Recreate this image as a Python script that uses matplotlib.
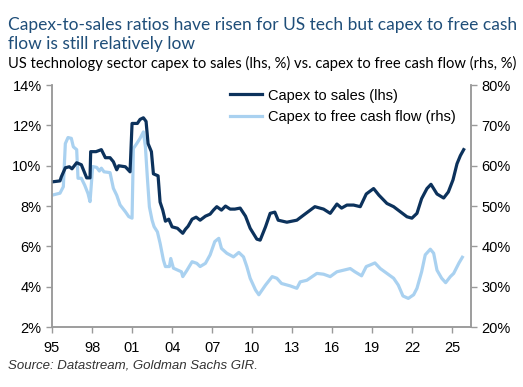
import matplotlib
matplotlib.use("Agg")
import matplotlib.pyplot as plt

# capex to sales (lhs, %)
sales_year = [1995.0, 1995.6, 1995.7, 1996.0, 1996.3, 1996.5, 1996.85, 1997.2, 1997.6, 1997.85,
              1997.9, 1998.3, 1998.7, 1999.0, 1999.35, 1999.6, 1999.85, 2000.0, 2000.5, 2000.85,
              2001.0, 2001.4, 2001.6, 2001.85, 2002.05, 2002.2, 2002.45, 2002.6, 2002.95, 2003.1,
              2003.3, 2003.5, 2003.75, 2004.0, 2004.4, 2004.8, 2005.0, 2005.2, 2005.5, 2005.8,
              2006.1, 2006.5, 2006.85, 2007.1, 2007.35, 2007.7, 2008.0, 2008.35, 2008.7, 2009.1,
              2009.5, 2009.85, 2010.35, 2010.6, 2011.0, 2011.35, 2011.7, 2011.95, 2012.6, 2013.35,
              2013.85, 2014.7, 2015.35, 2015.85, 2016.35, 2016.7, 2017.1, 2017.6, 2018.1, 2018.55,
              2019.1, 2019.5, 2020.1, 2020.6, 2021.1, 2021.6, 2021.97, 2022.35, 2022.7, 2023.1,
              2023.4, 2023.85, 2024.35, 2024.7, 2025.05, 2025.35, 2025.6, 2025.85]
sales_val = [9.2, 9.25, 9.45, 9.9, 9.95, 9.85, 10.15, 10.05, 9.4, 9.4,
             10.7, 10.7, 10.8, 10.4, 10.4, 10.2, 9.8, 10.0, 9.95, 9.7,
             12.1, 12.1, 12.3, 12.38, 12.2, 11.1, 10.7, 9.6, 9.5, 8.2,
             7.8, 7.25, 7.35, 6.97, 6.9, 6.65, 6.85, 7.0, 7.35, 7.45,
             7.3, 7.5, 7.6, 7.8, 7.97, 7.8, 8.0, 7.85, 7.85, 7.9,
             7.5, 6.9, 6.36, 6.31, 6.97, 7.64, 7.7, 7.3, 7.2, 7.3,
             7.55, 7.97, 7.85, 7.64, 8.1, 7.9, 8.05, 8.05, 7.97, 8.6,
             8.87, 8.54, 8.13, 7.97, 7.72, 7.47, 7.4, 7.64, 8.37, 8.87,
             9.08, 8.6, 8.4, 8.7, 9.3, 10.1, 10.5, 10.8]

# capex to free cash flow (rhs, %)
fcf_year = [1995.0, 1995.6, 1995.85, 1996.0, 1996.2, 1996.45, 1996.6, 1996.85, 1996.95, 1997.2,
            1997.45, 1997.7, 1997.85, 1998.05, 1998.35, 1998.55, 1998.7, 1998.9, 1999.35, 1999.6,
            1999.85, 2000.1, 2000.5, 2000.75, 2001.0, 2001.1, 2001.35, 2001.6, 2001.85, 2002.0,
            2002.15, 2002.3, 2002.5, 2002.65, 2002.9, 2003.1, 2003.35, 2003.5, 2003.8, 2003.9,
            2004.1, 2004.7, 2004.8, 2005.1, 2005.5, 2005.85, 2006.1, 2006.5, 2006.85, 2007.2,
            2007.5, 2007.7, 2008.1, 2008.6, 2009.0, 2009.35, 2009.6, 2009.85, 2010.25, 2010.5,
            2011.0, 2011.5, 2011.85, 2012.2, 2012.85, 2013.35, 2013.6, 2014.1, 2014.85, 2015.35,
            2015.85, 2016.35, 2016.85, 2017.35, 2017.7, 2018.2, 2018.55, 2018.85, 2019.2, 2019.6,
            2020.1, 2020.6, 2020.95, 2021.3, 2021.7, 2022.1, 2022.35, 2022.7, 2022.97, 2023.35,
            2023.6, 2023.85, 2024.2, 2024.5, 2024.85, 2025.1, 2025.5, 2025.75]
fcf_val = [52.7, 53.2, 54.8, 65.5, 67.0, 66.8, 64.7, 64.0, 56.9, 56.9,
           55.2, 53.1, 51.1, 59.8, 59.6, 58.7, 59.4, 58.5, 58.3, 54.4,
           52.7, 50.3, 48.6, 47.4, 47.0, 64.3, 65.5, 66.8, 68.4, 64.7,
           56.9, 49.8, 46.5, 44.9, 43.6, 40.8, 36.6, 35.0, 35.0, 37.0,
           34.6, 33.7, 32.5, 34.0, 36.2, 35.8, 35.0, 35.8, 37.9, 41.2,
           42.0, 39.5, 38.3, 37.4, 38.5, 37.4, 35.0, 32.1, 29.2, 28.0,
           30.4, 32.5, 32.1, 30.8, 30.2, 29.6, 31.2, 31.6, 33.3, 33.1,
           32.5, 33.7, 34.1, 34.5, 33.7, 32.7, 35.0, 35.4, 35.9, 34.5,
           33.3, 32.1, 30.4, 27.7, 27.1, 28.0, 29.6, 33.7, 37.9, 39.3,
           38.3, 34.1, 32.1, 31.0, 32.5, 33.3, 35.9, 37.3]

x_ticks = [1995, 1998, 2001, 2004, 2007, 2010, 2013, 2016, 2019, 2022, 2025]
x_labels = ['95', '98', '01', '04', '07', '10', '13', '16', '19', '22', '25']
lhs_ticks = [2, 4, 6, 8, 10, 12, 14]
rhs_ticks = [20, 30, 40, 50, 60, 70, 80]

dark = '#0c325c'
light = '#a9d1f0'
spine_col = '#9a9a9a'

plt.rcParams['font.family'] = ['Liberation Sans', 'DejaVu Sans']

fig = plt.figure(figsize=(5.23, 3.87), dpi=100)
ax = fig.add_axes([0.0994, 0.155, 0.8012, 0.625])
ax2 = ax.twinx()

l2, = ax2.plot(fcf_year, fcf_val, color=light, linewidth=2.3, label='Capex to free cash flow (rhs)')
l1, = ax.plot(sales_year, sales_val, color=dark, linewidth=2.3, label='Capex to sales (lhs)')
ax.set_zorder(ax2.get_zorder() + 1)
ax.patch.set_visible(False)

ax.set_xlim(1995, 2026.4)
ax.set_ylim(2, 14)
ax2.set_ylim(20, 80)
ax.set_xticks(x_ticks)
ax.set_xticklabels(x_labels)
ax.set_yticks(lhs_ticks)
ax.set_yticklabels([f'{v}%' for v in lhs_ticks])
ax2.set_yticks(rhs_ticks)
ax2.set_yticklabels([f'{v}%' for v in rhs_ticks])

for a in (ax, ax2):
    a.spines['top'].set_visible(False)
    for s in ('left', 'right', 'bottom'):
        a.spines[s].set_color(spine_col)
        a.spines[s].set_linewidth(1.1)
    a.tick_params(colors='black', labelsize=10.5, length=4, width=1.0)
    a.tick_params(axis='both', color=spine_col)
ax.tick_params(axis='x', pad=6)

leg = ax.legend(handles=[l1, l2], loc='upper left', bbox_to_anchor=(0.41, 1.01),
                frameon=False, fontsize=10.5, handlelength=2.2, handletextpad=0.4,
                labelspacing=0.5, borderaxespad=0)

title_font = ['Lato', 'DejaVu Sans']
fig.text(0.015, 1 - 30 / 387, 'Capex-to-sales ratios have risen for US tech but capex to free cash',
         color='#1f4e79', fontsize=12.5, family=title_font, va='baseline')
fig.text(0.015, 1 - 49.5 / 387, 'flow is still relatively low',
         color='#1f4e79', fontsize=12.5, family=title_font, va='baseline')
fig.text(0.015, 1 - 68 / 387, 'US technology sector capex to sales (lhs, %) vs. capex to free cash flow (rhs, %)',
         color='black', fontsize=10.6, family=title_font, va='baseline')
fig.text(0.015, 1 - 368 / 387, 'Source: Datastream, Goldman Sachs GIR.', color='#333333',
         fontsize=9.5, style='italic', va='baseline')

fig.savefig('out.png', dpi=100)
